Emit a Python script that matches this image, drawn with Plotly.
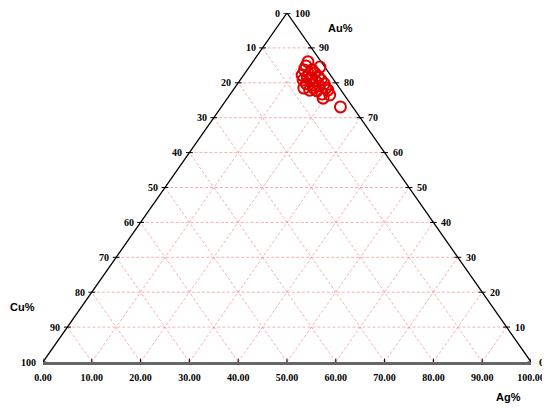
import plotly.graph_objects as go

# Composition of the samples (wt %)
au = [86.0, 84.5, 83.7, 83.7, 82.2, 82.5, 82.8, 81.7, 80.8, 81.1, 80.5, 80.8, 79.7, 79.4, 79.1,
      79.7, 78.5, 77.9, 77.7, 76.8, 77.9, 76.5, 75.6, 73.1, 81.4, 81.7, 78.5, 78.5, 84.8]
ag = [11.3, 14.5, 11.7, 13.3, 12.0, 13.2, 14.3, 15.6, 12.9, 14.2, 15.6, 16.6, 14.1, 15.6, 17.1,
      17.8, 14.2, 15.7, 17.3, 18.8, 19.4, 20.5, 19.6, 24.4, 14.4, 13.3, 16.2, 18.7, 11.5]
cu = [round(100 - a - g, 1) for a, g in zip(au, ag)]

ticks = [0, 10, 20, 30, 40, 50, 60, 70, 80, 90, 100]
ag_labels = ["%.2f" % t for t in ticks]

# ternary -> cartesian (Ag bottom-right, Cu bottom-left, Au top)
def tx(a, g):
    return g + a / 2.0

fig = go.Figure()

# grid
gx, gy = [], []
for v in ticks[1:-1]:
    # constant Au
    gx += [v / 2, 100 - v / 2, None]; gy += [v, v, None]
    # constant Ag
    gx += [v, v + (100 - v) / 2, None]; gy += [0, 100 - v, None]
    # constant Cu
    gx += [100 - v, (100 - v) / 2, None]; gy += [0, 100 - v, None]
fig.add_trace(go.Scatter(x=gx, y=gy, mode="lines", hoverinfo="skip",
                         line=dict(color="rgba(240,110,110,0.55)", width=1, dash="3px,2px")))

# triangle sides
fig.add_trace(go.Scatter(x=[0, 50, 100], y=[0, 100, 0], mode="lines", hoverinfo="skip",
                         line=dict(color="black", width=1.3)))

# tick marks
kx, ky = [], []
for v in ticks:
    a = 100 - v
    kx += [a / 2 - 0.7, a / 2 + 0.7, None]; ky += [a, a, None]
    kx += [100 - v / 2 - 0.7, 100 - v / 2 + 0.7, None]; ky += [v, v, None]
    kx += [v, v, None]; ky += [-1, 1, None]
fig.add_trace(go.Scatter(x=kx, y=ky, mode="lines", hoverinfo="skip", cliponaxis=False,
                         line=dict(color="black", width=1)))

# samples
fig.add_trace(go.Scatter(x=[tx(a, g) for a, g in zip(au, ag)], y=au, mode="markers",
                         cliponaxis=False, customdata=list(zip(au, ag, cu)),
                         hovertemplate="Au %{customdata[0]}%<br>Ag %{customdata[1]}%<br>Cu %{customdata[2]}%<extra></extra>",
                         marker=dict(symbol="circle-open", size=11, color="#e00000",
                                     line=dict(width=2, color="#e00000"))))

serif = dict(family="Liberation Serif", size=10, color="black")
for v in ticks:
    a = 100 - v
    fig.add_annotation(x=a / 2, y=a, text="<b>%d</b>" % v, showarrow=False,
                       xanchor="right", xshift=-5, font=serif)
    fig.add_annotation(x=100 - v / 2, y=v, text="<b>%d</b>" % v, showarrow=False,
                       xanchor="left", xshift=6, font=serif)

sans = dict(family="Liberation Sans", size=11, color="black")
for x, y, t in [(0.609, 0.957, "Au%"), (-0.041, 0.158, "Cu%"), (0.953, -0.100, "Ag%")]:
    fig.add_annotation(x=x, y=y, xref="paper", yref="paper", text="<b>%s</b>" % t, showarrow=False,
                       xanchor="center", yanchor="middle", font=sans)

fig.update_xaxes(range=[0, 100], tickvals=ticks, ticktext=["<b>%s</b>" % t for t in ag_labels],
                 tickfont=serif, showgrid=False, zeroline=False, showline=True, automargin=False,
                 linecolor="#666666", linewidth=3, ticks="", ticklabelstandoff=4)
fig.update_yaxes(range=[0, 100], visible=False)
# page body adds an 8px offset, so margins are shifted to compensate
fig.update_layout(width=550, height=408, showlegend=False, plot_bgcolor="white", paper_bgcolor="white",
                  margin=dict(l=35, r=27, t=5, b=54))
fig.write_html("out.html")
